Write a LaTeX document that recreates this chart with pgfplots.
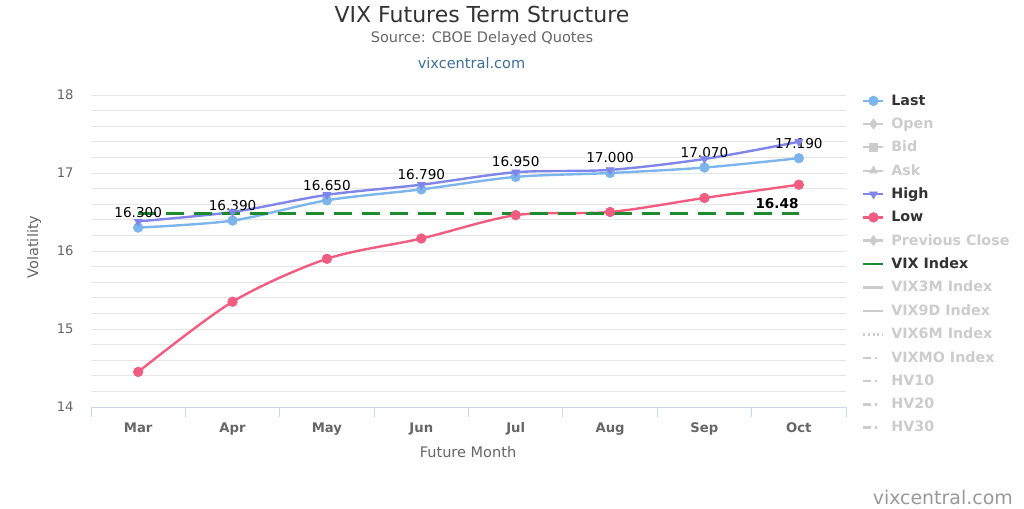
\documentclass[border=0pt]{standalone}
\usepackage{pgfplots}
\pgfplotsset{compat=1.18}
\usepackage{pgfplotstable}
\usepackage{fontspec}
\setmainfont{DejaVu Sans}
\definecolor{clast}{HTML}{7CB5EC}
\definecolor{chigh}{HTML}{8085E9}
\definecolor{clow}{HTML}{F15C80}
\definecolor{cvix}{HTML}{1E8C2E}
\definecolor{cgray}{HTML}{CCCCCC}
\definecolor{cgrid}{HTML}{E6E6E6}
\definecolor{caxis}{HTML}{CCD6EB}
\definecolor{clab}{HTML}{666666}
\definecolor{ctitle}{HTML}{333333}
\definecolor{clink}{HTML}{3D6E9E}
\definecolor{ccred}{HTML}{999999}

\pgfplotstableread{
x last high low vix label
0 16.30 16.38 14.45 16.48 16.300
1 16.39 16.50 15.35 16.48 16.390
2 16.65 16.72 15.90 16.48 16.650
3 16.79 16.85 16.16 16.48 16.790
4 16.95 17.01 16.46 16.48 16.950
5 17.00 17.04 16.50 16.48 17.000
6 17.07 17.18 16.68 16.48 17.070
7 17.19 17.40 16.85 16.48 17.190
}\data

\begin{document}
\begin{tikzpicture}
\begin{axis}[
  at={(0,0)}, anchor=south west,
  scale only axis, width=566.25pt, height=234pt,
  xmin=-0.5, xmax=7.5, ymin=14, ymax=18,
  xtick={0,...,7}, xticklabels={Mar,Apr,May,Jun,Jul,Aug,Sep,Oct},
  minor xtick={-0.5,0.5,1.5,2.5,3.5,4.5,5.5,6.5,7.5},
  ytick={14,14.2,14.4,14.6,14.8,15,15.2,15.4,15.6,15.8,16,16.2,16.4,16.6,16.8,17,17.2,17.4,17.6,17.8,18},
  yticklabels={14,,,,,15,,,,,16,,,,,17,,,,,18},
  ymajorgrids=true,
  major grid style={cgrid, line width=0.75pt},
  major tick length=0pt, minor tick length=7.5pt, tick align=outside,
  minor tick style={caxis, line width=0.75pt},
  axis x line*=bottom, axis y line*=left,
  x axis line style={caxis, line width=0.75pt, -},
  y axis line style={draw=none},
  /pgf/number format/assume math mode=true,
  xticklabel style={font=\bfseries\fontsize{9.9pt}{12pt}\selectfont, text=clab, yshift=-8pt},
  yticklabel style={font=\fontsize{9.9pt}{12pt}\selectfont, text=clab, xshift=-9.5pt},
  legend style={draw=none, fill=none, at={(1.0159,1.019)}, anchor=north west,
    font=\bfseries\fontsize{10.7pt}{12pt}\selectfont, text=ctitle, row sep=3.95pt},
  legend cell align=left,
  legend image code/.code={\draw[mark repeat=2,mark phase=2,#1] plot coordinates {(0pt,0pt) (7.5pt,0pt) (15pt,0pt)}; \path (18pt,0pt);},
]
\addplot[clast, line width=1.8pt, smooth, mark=*, mark size=3.6pt,
  mark options={fill=clast, draw=clast, line width=0.5pt},
  nodes near coords, point meta=explicit symbolic,
  every node near coord/.append style={anchor=center, yshift=11.25pt,
    font=\fontsize{10.2pt}{12pt}\selectfont, text=black},
  forget plot] table[x=x, y=last, meta=label]{\data};
\addplot[chigh, line width=1.8pt, smooth, mark=triangle*, mark size=3.4pt,
  mark options={fill=chigh, draw=chigh, rotate=180, line width=0.5pt},
  forget plot] table[x=x, y=high]{\data};
\addplot[clow, line width=1.8pt, smooth, mark=*, mark size=3.6pt,
  mark options={fill=clow, draw=clow, line width=0.5pt},
  forget plot] table[x=x, y=low]{\data};
\addplot[cvix, line width=2.25pt, no markers, dash pattern=on 13.5pt off 7.5pt,
  forget plot] table[x=x, y=vix]{\data};
\node[anchor=south east, inner sep=0pt, yshift=3.75pt,
  font=\bfseries\fontsize{10.2pt}{12pt}\selectfont, text=black] at (axis cs:7,16.48) {16.48};

\addlegendimage{clast, line width=1.8pt, mark=*, mark size=3.6pt, mark options={fill=clast, line width=0.5pt}}
\addlegendentry{Last}
\addlegendimage{cgray, line width=1.8pt, mark=diamond*, mark size=3.8pt, mark options={fill=cgray, line width=0.5pt}}
\addlegendentry{\textcolor{cgray}{Open}}
\addlegendimage{cgray, line width=1.8pt, mark=square*, mark size=3pt, mark options={fill=cgray, line width=0.5pt}}
\addlegendentry{\textcolor{cgray}{Bid}}
\addlegendimage{cgray, line width=1.8pt, mark=triangle*, mark size=3.4pt, mark options={fill=cgray, line width=0.5pt}}
\addlegendentry{\textcolor{cgray}{Ask}}
\addlegendimage{chigh, line width=1.8pt, mark=triangle*, mark size=3.4pt, mark options={fill=chigh, rotate=180, line width=0.5pt}}
\addlegendentry{High}
\addlegendimage{clow, line width=1.8pt, mark=*, mark size=3.6pt, mark options={fill=clow, line width=0.5pt}}
\addlegendentry{Low}
\addlegendimage{cgray, line width=1.8pt, mark=diamond*, mark size=3.8pt, mark options={fill=cgray, line width=0.5pt}}
\addlegendentry{\textcolor{cgray}{Previous Close}}
\addlegendimage{cvix, line width=1.8pt}
\addlegendentry{VIX Index}
\addlegendimage{cgray, line width=1.8pt}
\addlegendentry{\textcolor{cgray}{VIX3M Index}}
\addlegendimage{cgray, line width=1.8pt}
\addlegendentry{\textcolor{cgray}{VIX9D Index}}
\addlegendimage{cgray, line width=1.8pt, dash pattern=on 1.5pt off 2pt}
\addlegendentry{\textcolor{cgray}{VIX6M Index}}
\addlegendimage{cgray, line width=1.8pt, dash pattern=on 6pt off 3pt on 1.5pt off 4.5pt}
\addlegendentry{\textcolor{cgray}{VIXMO Index}}
\addlegendimage{cgray, line width=1.8pt, dash pattern=on 6pt off 3pt on 1.5pt off 4.5pt}
\addlegendentry{\textcolor{cgray}{HV10}}
\addlegendimage{cgray, line width=1.8pt, dash pattern=on 6pt off 3pt on 1.5pt off 4.5pt}
\addlegendentry{\textcolor{cgray}{HV20}}
\addlegendimage{cgray, line width=1.8pt, dash pattern=on 6pt off 3pt on 1.5pt off 4.5pt}
\addlegendentry{\textcolor{cgray}{HV30}}
\end{axis}
\begin{scope}[shift={(-68.25pt,305.25pt)}, x=0.75pt, y=-0.75pt]
\node[font=\fontsize{16.5pt}{19pt}\selectfont, text=ctitle] at (482,14) {VIX Futures Term Structure};
\node[font=\fontsize{10.9pt}{13pt}\selectfont, text=clab] at (482,38) {Source: CBOE Delayed Quotes};
\node[font=\fontsize{10.9pt}{13pt}\selectfont, text=clink] at (471.5,63) {vixcentral.com};
\node[anchor=east, inner sep=0pt, font=\fontsize{14.2pt}{17pt}\selectfont, text=ccred] at (1013,497) {vixcentral.com};
\node[rotate=90, font=\fontsize{10.9pt}{13pt}\selectfont, text=clab] at (34,247) {Volatility};
\node[font=\fontsize{10.9pt}{13pt}\selectfont, text=clab] at (468,452) {Future Month};
\end{scope}
\pgfresetboundingbox
\begin{scope}[shift={(-68.25pt,305.25pt)}, x=0.75pt, y=-0.75pt]
\useasboundingbox (0,0) rectangle (1024,508);
\end{scope}
\end{tikzpicture}
\end{document}
